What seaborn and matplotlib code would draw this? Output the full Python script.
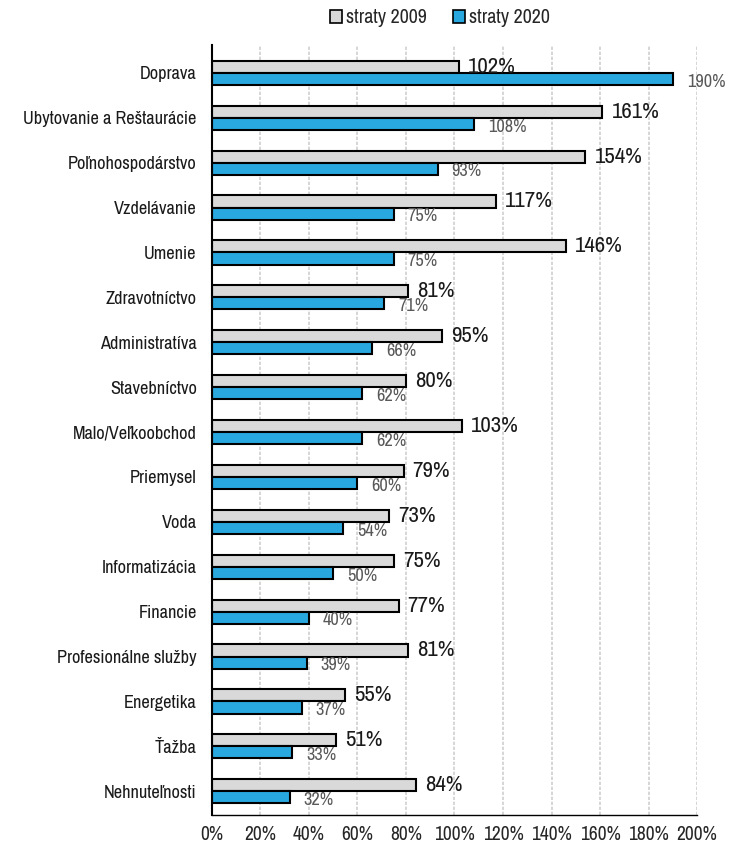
import pandas as pd
import seaborn as sns
import matplotlib.pyplot as plt
from matplotlib import font_manager

# Data
sectors = ['Doprava', 'Ubytovanie a Reštaurácie', 'Poľnohospodárstvo', 'Vzdelávanie',
           'Umenie', 'Zdravotníctvo', 'Administratíva', 'Stavebníctvo',
           'Malo/Veľkoobchod', 'Priemysel', 'Voda', 'Informatizácia', 'Financie',
           'Profesionálne služby', 'Energetika', 'Ťažba', 'Nehnuteľnosti']
straty_2009 = [102, 161, 154, 117, 146, 81, 95, 80, 103, 79, 73, 75, 77, 81, 55, 51, 84]
straty_2020 = [190, 108, 93, 75, 75, 71, 66, 62, 62, 60, 54, 50, 40, 39, 37, 33, 32]
series = ['straty 2009', 'straty 2020']
x_ticks = [0, 20, 40, 60, 80, 100, 120, 140, 160, 180, 200]

data = pd.DataFrame({
    'sektor': sectors * 2,
    'hodnota': straty_2009 + straty_2020,
    'rok': [series[0]] * len(sectors) + [series[1]] * len(sectors),
})

sns.set_style('white')
names = {f.name for f in font_manager.fontManager.ttflist}
font = 'DejaVu Sans'
for cand in ['Liberation Sans Narrow', 'Arial Narrow', 'Archivo Narrow', 'Roboto Condensed']:
    if cand in names:
        font = cand
        break
plt.rcParams['font.family'] = [font, 'DejaVu Sans']

fig = plt.figure(figsize=(7.3, 8.43), dpi=100)
ax = fig.add_axes([0.2904, 0.0332, 0.6644, 0.9134])

colors = {series[0]: '#d9d9d9', series[1]: '#29a8e0'}
sns.barplot(data=data, x='hodnota', y='sektor', hue='rok', hue_order=series,
            palette=colors, orient='h', width=0.54, edgecolor='black',
            linewidth=1.5, ax=ax, legend=False, saturation=1)

# value labels
for i, cont in enumerate(ax.containers):
    for bar, v in zip(cont, straty_2009 if i == 0 else straty_2020):
        yc = bar.get_y() + bar.get_height() / 2
        if i == 0:
            ax.annotate(f'{v}%', (bar.get_width(), yc), xytext=(6.5, 0),
                        textcoords='offset points', va='center', ha='left',
                        fontsize=16.5, color='#1a1a1a')
        else:
            ax.annotate(f'{v}%', (bar.get_width(), yc), xytext=(10, -2),
                        textcoords='offset points', va='center', ha='left',
                        fontsize=13.2, color='#595959')

ax.set_xlim(0, 200)
ax.set_ylim(16.53, -0.62)
ax.set_xticks(x_ticks)
ax.set_xticklabels([f'{t}%' for t in x_ticks], fontsize=14, color='#262626')
ax.tick_params(axis='y', labelsize=13.2, length=0, pad=11, labelcolor='#1a1a1a')
ax.tick_params(axis='x', length=0, pad=7)
ax.set_xlabel('')
ax.set_ylabel('')
ax.xaxis.grid(True, color='#d0d0d0', linewidth=1.2, linestyle=(0, (2, 1)))
ax.set_axisbelow(True)
for s in ['top', 'right']:
    ax.spines[s].set_visible(False)
ax.spines['left'].set_color('black')
ax.spines['left'].set_linewidth(1.5)
ax.spines['bottom'].set_color('black')
ax.spines['bottom'].set_linewidth(1.0)

handles = [plt.Rectangle((0, 0), 1, 1, facecolor=colors[s], edgecolor='black', linewidth=1.2)
           for s in series]
fig.legend(handles, series, loc='center', bbox_to_anchor=(0.603, 0.979), ncol=2,
           frameon=False, fontsize=14.4, handlelength=0.6, handleheight=0.6,
           handletextpad=0.2, columnspacing=1.3)

fig.savefig('out.png', dpi=100)
